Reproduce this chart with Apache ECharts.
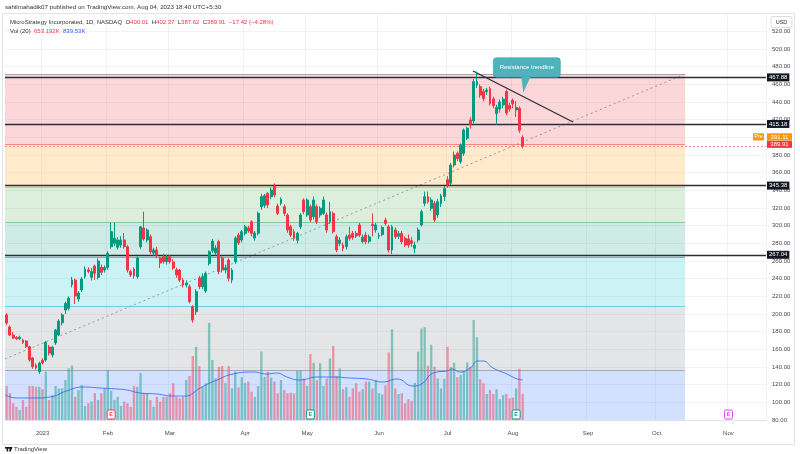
<!DOCTYPE html>
<html><head><meta charset="utf-8">
<script src="https://cdn.jsdelivr.net/npm/echarts@6/dist/echarts.min.js"></script>
<style>html,body{margin:0;padding:0;background:#fff;}#c{width:800px;height:454px;}</style>
</head><body><div id="c"></div>
<script>
// ---------- DATA ----------
const startDate = '2022-12-15';
const holidays = ['2022-12-26','2023-01-02','2023-01-16','2023-02-20','2023-04-07','2023-05-29','2023-06-19','2023-07-04'];
const slotCount = 233;
const monthLabels = ['2023','Feb','Mar','Apr','May','Jun','Jul','Aug','Sep','Oct','Nov','Dec'];

const opens = [198.9,185.3,176.2,173.5,172.0,170.6,169.4,163.0,150.2,142.0,134.7,147.5,148.0,162.6,153.6,167.2,176.2,190.0,204.5,206.4,233.0,238.5,217.0,227.2,242.2,250.0,241.5,254.3,241.5,252.8,249.8,252.8,276.2,280.0,275.5,278.0,283.8,276.2,248.0,251.0,242.2,276.2,297.4,283.8,287.5,269.0,272.5,263.4,264.9,259.2,264.9,259.0,250.0,249.8,238.5,232.8,231.0,208.3,202.5,240.8,230.9,226.0,257.3,271.6,269.1,281.9,263.4,249.8,261.1,238.5,259.2,289.4,283.8,291.3,297.4,304.5,286.0,291.3,321.5,323.0,336.6,332.8,344.2,322.3,325.3,321.5,312.1,298.8,293.2,283.5,298.8,329.1,312.1,321.5,310.2,321.5,312.1,314.0,312.1,304.5,313.9,287.5,280.0,278.1,276.2,289.4,291.3,291.3,300.8,282.0,289.4,282.3,301.5,295.1,288.0,290.0,306.4,298.8,272.5,295.1,288.0,291.3,285.7,285.0,283.0,274.4,283.8,300.8,325.3,332.8,319.7,325.3,312.1,325.0,333.0,352.0,348.0,368.7,381.9,372.4,381.9,399.0,419.6,418.6,459.3,457.3,452.0,451.8,455.0,443.5,427.0,432.0,436.7,452.0,436.0,442.0,431.0,433.0,400.01];
const closes = [189.8,176.2,172.8,171.9,173.8,167.7,163.0,147.9,140.3,138.9,144.5,144.6,168.0,155.8,162.6,181.9,192.0,199.0,212.0,217.8,238.5,220.4,223.8,239.6,250.9,248.0,247.9,246.1,260.0,247.2,252.8,268.7,293.2,285.7,283.8,283.8,276.2,249.8,244.2,243.0,263.4,298.8,285.0,295.1,270.5,272.5,266.8,257.7,259.2,264.9,259.2,252.0,244.2,238.5,232.8,235.1,214.0,193.2,225.2,230.9,242.2,246.0,270.5,282.4,274.7,247.9,249.8,252.3,240.4,249.8,286.0,280.4,293.2,298.8,294.0,291.3,291.7,314.0,332.8,334.0,323.4,340.4,334.7,314.0,329.8,314.0,295.1,289.4,285.7,291.3,312.1,315.8,329.1,306.4,329.1,304.5,319.7,329.1,295.1,315.8,293.2,272.5,283.8,274.4,287.5,285.7,286.8,288.3,289.4,287.0,281.9,287.3,300.0,300.8,288.8,298.0,302.6,272.5,298.8,287.5,291.0,281.9,278.0,278.0,280.0,278.1,295.1,315.8,332.8,327.1,329.1,306.4,327.1,334.0,342.0,346.0,368.7,380.0,376.2,391.3,408.3,410.3,414.6,463.0,463.1,447.9,444.0,453.6,438.0,436.0,434.0,440.0,443.3,427.5,432.0,438.0,434.0,408.0,389.91];
const lows = [187.5,175,171.7,170.5,170.5,166,161.5,146,138,137,132.1,143,146,153,151,165,175,187,200,204,230,211.3,214,225,240,246,238,238.5,239,244,247,250,274,277,273,275,274,247,242,240,240,274,283,281,268,266,263,252,257,256,257,250,241,236,230,230,212,190.2,199,228,228,224,255,269,266,245,247,246,237,235,257,278,281,289,292,288,283,289,318,320,320,330,332,312,323,311,292,287,283,280,296,313,310,304,307,302,309,312,292,302,291,270,277,271,273,283,284,286,287,280,279,280,288,292,285,288,300,269.4,268,285,285,279,276,275,276,268.8,281,299,322,325,317,304,309,321,328,343,346,366,373,370,379,397,410,416,456,445,441,448,436,433,414,428,433,425,429,433,423,405,387.62];
const highs = [201.2,187,179.6,175,175.5,172,170.5,164,151.5,144,146,150,169.5,165,164,183,194,201,214,220,242,240,226,242,254,253,252,256,263,256,255,271,303.4,303.8,287,288,291.7,278,250,253,265,299.6,315.8,297,290,275,276,265,268,267,267,262,252.5,251,241,238,233.5,210,228,243,246,248,272,285,278,284,266,256,263,252,288,292,295,301,300,306,294,316,336,336,338,343,347.8,325,332,324,314,301,296,293,314,331,331,324,333,324,322,333,315,327,316,290,287,281,290,298.8,294,294,303,290,293,290,314,303,292,300,309,301,301,298,294,294,288,290,287,282,298,318,338.6,338.6,332,328,330,336,345,356,371,384,384,393,410,412,423,466,474.3,460,455,456,457,446,437,443,446,454,439,444,441,435,402.37];
const volumesK = [850,670,420,330,250,500,330,850,850,830,830,770,1210,500,625,850,790,790,1000,1290,1360,580,750,875,350,420,460,670,500,670,790,1250,730,500,580,350,460,420,330,850,830,1180,680,670,500,330,580,460,580,580,670,920,580,540,580,1000,1100,1600,1830,1350,830,920,2430,1500,1040,1330,1350,930,1350,790,1210,820,1070,930,960,710,580,850,1710,1080,1210,1060,960,670,1000,750,670,680,670,1230,1230,1040,850,1650,1430,1000,1420,850,1040,1540,1850,1100,1290,770,820,580,790,920,710,770,960,960,790,1000,670,640,870,1690,2270,790,650,670,420,520,480,930,1710,2290,2320,1360,1880,1330,1040,790,1030,1830,1320,1430,1070,1130,1210,1440,1330,2500,2070,1020,920,650,750,650,770,520,625,650,540,560,790,1280,653];
// Volume MA(20) line: slot position, value (K)
const volMaSlot = [0,3.7,8.6,13.8,18.8,23.9,29.1,34.3,37.4,41.3,46.5,51.4,55.7,57.6,59.7,64.9,69.8,75.9,80.2,83.3,86.3,90.3,95.5,100.4,105.6,110.8,115.7,120,124.9,128,130.1,132.3,135.3,136.9,139.3,142.4,144.8,146.4,149.4,153.7,156.8,158.5];
const volMaK = [625,550,550,575,725,825,800,775,750,675,650,600,600,675,800,1000,1150,1200,1150,1175,1075,1000,1075,1075,1050,1025,950,1025,850,925,1125,1200,1225,1275,1200,1300,1475,1475,1300,1150,1025,1000];

const fibLevels = [471.7, 392.6, 343.7, 304.2, 264.6, 208.3, 136.6];
const fibLineColors = ['#787b86','#f23645','#ff9800','#4caf50','#089981','#00bcd4','#787b86'];
const fibBandColors = ['rgba(242,54,69,0.2)','rgba(255,152,0,0.2)','rgba(76,175,80,0.2)','rgba(8,153,129,0.2)','rgba(0,188,212,0.2)','rgba(120,123,134,0.2)','rgba(41,98,255,0.2)'];
const fibEndSlot = 208.2;
const fibDiagSlot = [0, 208.2];
const fibDiagPrice = [149.1, 471.7];
const trendSlot = [143.3, 173.9];
const trendPrice = [475.1, 417.4];
const keyLevels = [467.88, 415.18, 345.38, 267.04];
const lastClose = 389.91;
const preMarket = 391.11;
const calloutTip = [158.7, 450.5];
const calloutText = 'Resistance trendline';
const earningsIdx = [32, 93, 156, 221];
const earningsColor = ['#f23645', '#089981', '#089981', '#e040fb'];
const priceMin = 80, priceMax = 540, priceStep = 20;
const volMax = 3000;

// ---------- BUILD ----------
function tradingDays(start, n, hol) {
  const out = []; const d = new Date(start + 'T00:00:00Z');
  while (out.length < n) {
    const wd = d.getUTCDay(); const s = d.toISOString().slice(0, 10);
    if (wd !== 0 && wd !== 6 && hol.indexOf(s) < 0) out.push(s);
    d.setUTCDate(d.getUTCDate() + 1);
  }
  return out;
}
const dates = tradingDays(startDate, slotCount, holidays);
const isMonthStart = i => i > 0 && dates[i].slice(5, 7) !== dates[i - 1].slice(5, 7);

const UP = '#089981', DOWN = '#f23645';
const FONT = 'Liberation Sans, Arial, sans-serif';
const candleData = opens.map((o, i) => [o, closes[i], lows[i], highs[i]]);
const volData = volumesK.map((v, i) => ({ value: v, itemStyle: { color: closes[i] >= opens[i] ? 'rgba(8,153,129,0.45)' : 'rgba(242,54,69,0.45)' } }));
const maData = volMaSlot.map((s, i) => [s, volMaK[i]]);

const bandAreas = fibLevels.map((lvl, k) => {
  const bottom = k + 1 < fibLevels.length ? fibLevels[k + 1] : priceMin;
  return [{ coord: [0, lvl], itemStyle: { color: fibBandColors[k] } }, { coord: [fibEndSlot, bottom] }];
});
const fibLines = fibLevels.map((lvl, k) => [
  { coord: [0, lvl], lineStyle: { color: fibLineColors[k] } }, { coord: [fibEndSlot, lvl] }
]);

const chart = echarts.init(document.getElementById('c'), null, { renderer: 'canvas' });
const G0 = { left: 5, right: 34, top: 13.7, bottom: 34 };
const G1 = { left: 5, right: 34, top: 300, bottom: 34 };

chart.setOption({
  animation: false,
  textStyle: { fontFamily: FONT },
  grid: [G0, G1],
  xAxis: [
    { type: 'category', gridIndex: 0, data: dates, boundaryGap: true,
      axisLine: { show: true, lineStyle: { color: '#e0e3eb' } }, axisTick: { show: false },
      axisLabel: { interval: (i) => isMonthStart(i), formatter: (v) => monthLabels[+v.slice(5, 7) - 1], color: '#4a4a4a', fontSize: 6, margin: 10 },
      splitLine: { show: true, interval: (i) => isMonthStart(i), lineStyle: { color: 'rgba(42,46,57,0.06)' } } },
    { type: 'value', gridIndex: 0, min: 0, max: slotCount, show: false },
    { type: 'category', gridIndex: 1, data: dates, boundaryGap: true, show: false },
    { type: 'value', gridIndex: 1, min: 0, max: slotCount, show: false }
  ],
  yAxis: [
    { type: 'value', gridIndex: 0, position: 'right', min: priceMin, max: priceMax, interval: priceStep,
      axisLine: { show: false }, axisTick: { show: false },
      axisLabel: { formatter: v => v.toFixed(2), showMaxLabel: false, color: '#4a4a4a', fontSize: 6, margin: 6 },
      splitLine: { lineStyle: { color: 'rgba(42,46,57,0.06)' } } },
    { type: 'value', gridIndex: 1, min: 0, max: volMax, show: false, splitLine: { show: false } }
  ],
  series: [
    { name: 'fib', type: 'line', xAxisIndex: 1, yAxisIndex: 0, data: [], silent: true, z: 1,
      markArea: { silent: true, data: bandAreas },
      markLine: { silent: true, symbol: ['none', 'none'], label: { show: false }, lineStyle: { width: 1, type: 'solid', opacity: 0.55 }, data: fibLines } },
    { name: 'fibDiag', type: 'line', xAxisIndex: 1, yAxisIndex: 0, data: fibDiagSlot.map((s, i) => [s, fibDiagPrice[i]]),
      symbol: 'none', silent: true, z: 2, lineStyle: { color: '#9598a1', width: 1, type: [2, 3] } },
    { name: 'volume', type: 'bar', xAxisIndex: 2, yAxisIndex: 1, data: volData, barWidth: '72%', z: 3, silent: true },
    { name: 'volMA', type: 'line', xAxisIndex: 3, yAxisIndex: 1, data: maData, smooth: true, symbol: 'none', z: 4,
      lineStyle: { color: '#2962ff', width: 1, opacity: 0.8 } },
    { name: 'levels', type: 'line', xAxisIndex: 1, yAxisIndex: 0, data: [], z: 6, silent: true,
      markLine: { silent: true, symbol: ['none', 'none'],
        lineStyle: { color: '#2a2e39', width: 1.4, type: 'solid' },
        label: { show: true, position: 'end', distance: 1, formatter: p => p.value.toFixed(2), color: '#fff', backgroundColor: '#131722', fontSize: 6, padding: [1, 2, 1, 2] },
        data: keyLevels.map(v => ({ yAxis: v })).concat([{ yAxis: lastClose, lineStyle: { color: '#f23645', width: 1, type: [2, 2], opacity: 0.55 }, label: { show: false } }]) } },
    { name: 'trend', type: 'line', xAxisIndex: 1, yAxisIndex: 0, data: trendSlot.map((s, i) => [s, trendPrice[i]]),
      symbol: 'none', silent: true, z: 7, lineStyle: { color: '#2a2e39', width: 1.3 } },
    { name: 'MSTR', type: 'candlestick', xAxisIndex: 0, yAxisIndex: 0, data: candleData, barWidth: 2.4, z: 8,
      itemStyle: { color: UP, color0: DOWN, borderColor: UP, borderColor0: DOWN, borderWidth: 1 } }
  ]
});

// ---------- ANNOTATIONS (positioned from data via the axes) ----------
function overlays() {
  const px = v => chart.convertToPixel({ xAxisIndex: 1 }, v);
  const py = p => chart.convertToPixel({ yAxisIndex: 0 }, p);
  const vy = v => chart.convertToPixel({ yAxisIndex: 1 }, v);
  const right = px(slotCount);
  const g = [];
  const txt = (x, y, text, fill, size, align, extra) => Object.assign({ type: 'text', x: x, y: y, z: 101,
    style: { text: text, fill: fill, font: (size || 6) + 'px ' + FONT, textAlign: align || 'left', textVerticalAlign: 'middle' } }, extra || {});

  // last price + pre-market tags
  const yLast = py(lastClose) - 2;
  g.push({ type: 'rect', z: 100, shape: { x: right + 1, y: yLast - 3.6, width: 25, height: 7.2 }, style: { fill: '#f23645' } });
  g.push(txt(right + 13.5, yLast, lastClose.toFixed(2), '#fff', 6, 'center'));
  const yPre = yLast - 7.4;
  g.push({ type: 'rect', z: 100, shape: { x: right + 1, y: yPre - 3.6, width: 25, height: 7.2 }, style: { fill: '#ff9800' } });
  g.push(txt(right + 13.5, yPre, preMarket.toFixed(2), '#fff', 6, 'center'));
  g.push({ type: 'rect', z: 100, shape: { x: right - 13, y: yPre - 3.6, width: 11, height: 7.2 }, style: { fill: '#ff9800' } });
  g.push(txt(right - 7.5, yPre, 'Pre', '#fff', 5.5, 'center'));

  // callout
  const tx = px(calloutTip[0]), ty = py(calloutTip[1]);
  g.push({ type: 'rect', z: 100, shape: { x: tx - 30, y: ty - 35, width: 67, height: 19.5, r: 3 }, style: { fill: '#4fb3bc', stroke: '#3c9da6', lineWidth: 0.6 } });
  g.push({ type: 'polygon', z: 100, shape: { points: [[tx - 2, ty - 15.8], [tx + 7, ty - 15.8], [tx, ty]] }, style: { fill: '#4fb3bc' } });
  g.push(txt(tx + 3.5, ty - 25.2, calloutText, '#fff', 6, 'center'));

  // earnings markers
  const ey = vy(0) - 5.5;
  earningsIdx.forEach((idx, k) => {
    const ex = px(idx + 0.5);
    const c = earningsColor[k];
    g.push({ type: 'rect', z: 100, shape: { x: ex - 4, y: ey - 4.5, width: 8, height: 9, r: 1.5 }, style: { fill: '#fff', stroke: c, lineWidth: 1 } });
    g.push({ type: 'text', x: ex, y: ey + 0.3, z: 101, style: { text: 'E', fill: c, font: 'bold 5.5px ' + FONT, textAlign: 'center', textVerticalAlign: 'middle' } });
  });

  // header / chrome
  g.push({ type: 'rect', z: 0, shape: { x: 2.5, y: 13.5, width: 792, height: 431 }, style: { fill: 'none', stroke: '#e0e3eb', lineWidth: 1 } });
  g.push(txt(5, 7, 'sahilmahadik07 published on TradingView.com, Aug 04, 2023 18:40 UTC+5:30', '#333', 6.2));
  g.push({ type: 'text', x: 10, y: 22.5, z: 101, style: {
    text: '{d|MicroStrategy Incorporated, 1D, NASDAQ}  {d|O}{r|400.01}  {d|H}{r|402.37}  {d|L}{r|387.62}  {d|C}{r|389.91}  {r|\u221217.42 (\u22124.28%)}',
    textVerticalAlign: 'middle', font: '6px ' + FONT,
    rich: { d: { fill: '#333', font: '6px ' + FONT }, r: { fill: '#f23645', font: '6px ' + FONT } } } });
  g.push({ type: 'text', x: 10, y: 31, z: 101, style: {
    text: '{d|Vol (20)}  {r|653.192K}  {b|839.53K}', textVerticalAlign: 'middle', font: '6px ' + FONT,
    rich: { d: { fill: '#333', font: '6px ' + FONT }, r: { fill: '#f23645', font: '6px ' + FONT }, b: { fill: '#2962ff', font: '6px ' + FONT } } } });
  g.push({ type: 'rect', z: 100, shape: { x: 771, y: 16.5, width: 21, height: 11, r: 2 }, style: { fill: '#fff', stroke: '#d1d4dc', lineWidth: 0.8 } });
  g.push(txt(781.5, 22, 'USD', '#333', 5.5, 'center'));
  // TradingView logo
  g.push({ type: 'rect', z: 100, shape: { x: 5, y: 447, width: 4, height: 1.6 }, style: { fill: '#131722' } });
  g.push({ type: 'rect', z: 100, shape: { x: 6.6, y: 447, width: 1.6, height: 4.5 }, style: { fill: '#131722' } });
  g.push({ type: 'polygon', z: 100, shape: { points: [[10, 447], [12.5, 447], [10.8, 451.5], [9.2, 451.5]] }, style: { fill: '#131722' } });
  g.push({ type: 'circle', z: 100, shape: { cx: 9.6, cy: 447.9, r: 0.9 }, style: { fill: '#131722' } });
  g.push(txt(14, 449.3, 'TradingView', '#333', 6));
  chart.setOption({ graphic: { elements: g } });
}
overlays();
</script>
</body></html>
